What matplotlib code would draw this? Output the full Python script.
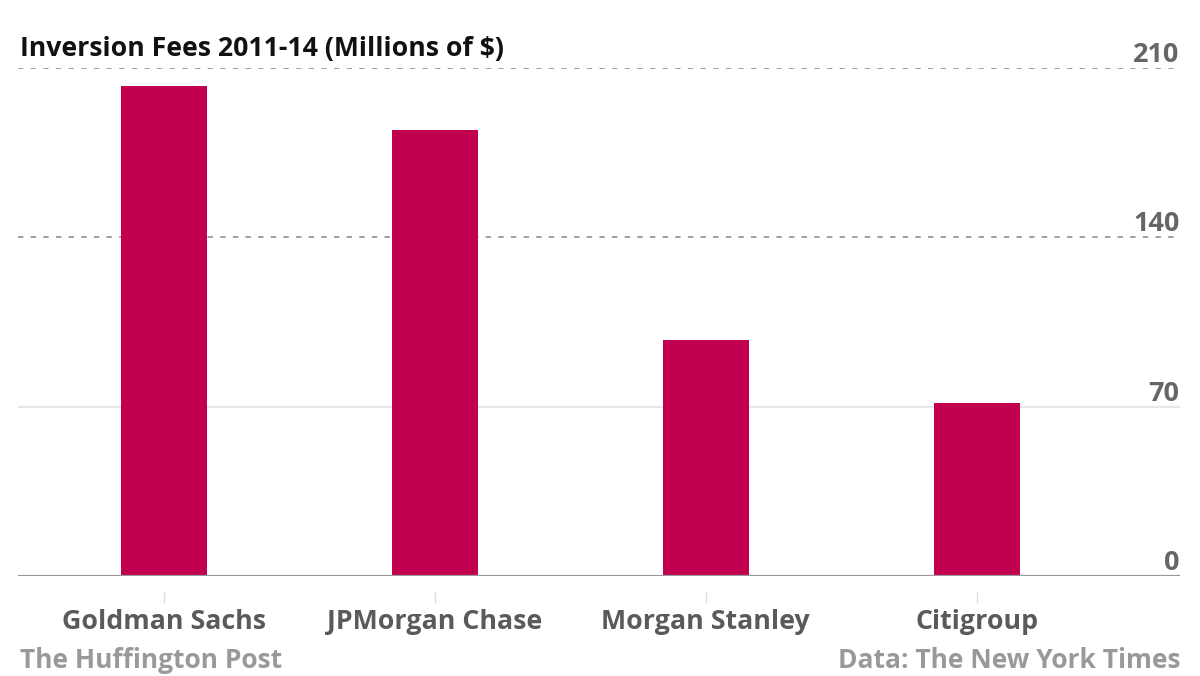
import numpy as np
import matplotlib.pyplot as plt
import matplotlib.transforms as mtransforms

plt.rcParams['font.family'] = ['Open Sans', 'DejaVu Sans']

banks = ['Goldman Sachs', 'JPMorgan Chase', 'Morgan Stanley', 'Citigroup']
fees = [202.6, 184.4, 97.6, 71.5]
yticks = [0, 70, 140, 210]

fig = plt.figure(figsize=(12, 6.76), dpi=100)
ax = fig.add_axes([0.015, 0.148, 0.968, 0.752])

x = np.arange(len(banks))
ax.bar(x, fees, width=0.317, color='#c20050', zorder=3)

ax.set_xlim(-0.539, 3.749)
ax.set_ylim(0, 210)

# gridlines: dotted at 140/210, solid light at 70, baseline at 0
for v in yticks:
    if v == 0:
        ax.axhline(v, color='#999999', lw=1.6, zorder=4)
    elif v == 70:
        ax.axhline(v, color='#e6e6e6', lw=1.6, zorder=1)
    else:
        ax.axhline(v, color='#999999', lw=1.3, ls=(0, (3, 4)), zorder=1)

trans = mtransforms.blended_transform_factory(ax.transAxes, ax.transData)
for v in yticks:
    ax.text(1.0, v, str(v), transform=trans, ha='right', va='bottom',
            fontsize=19.5, fontweight='bold', color='#666666')

for s in ['top', 'right', 'left']:
    ax.spines[s].set_visible(False)
ax.spines['bottom'].set_position(('outward', 11.5))
ax.spines['bottom'].set_visible(False)
ax.set_yticks([])
ax.set_xticks(x)
ax.set_xticklabels(banks, fontsize=19.3, fontweight='bold', color='#5a5a5a')
ax.tick_params(axis='x', length=8, width=1, color='#dddddd', pad=4)

fig.text(20/1200, 1 - 49/676, 'Inversion Fees 2011-14 (Millions of $)',
         ha='left', va='center', fontsize=19.2, fontweight='bold', color='#111111')
fig.text(20/1200, 1 - 660/676, 'The Huffington Post', ha='left', va='center',
         fontsize=19, fontweight='bold', color='#999999')
fig.text(1180/1200, 1 - 660/676, 'Data: The New York Times', ha='right', va='center',
         fontsize=19, fontweight='bold', color='#999999')

fig.savefig('out.png', dpi=100)
